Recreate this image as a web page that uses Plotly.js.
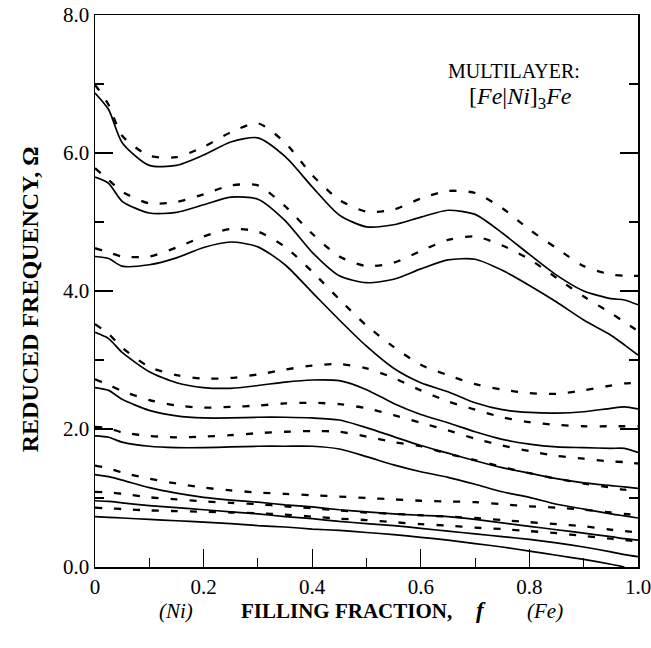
<!DOCTYPE html>
<html>
<head>
<meta charset="utf-8">
<script src="https://cdn.plot.ly/plotly-3.0.1.min.js"></script>
<style>html,body{margin:0;padding:0;background:#fff;}</style>
</head>
<body>
<div id="chart" style="width:651px;height:648px;"></div>
<script>
// Filling fraction f (Ni -> Fe)
var fillingFraction = [0, 0.025, 0.05, 0.1, 0.15, 0.2, 0.25, 0.3, 0.35, 0.4, 0.45, 0.5, 0.55, 0.6, 0.65, 0.7, 0.75, 0.8, 0.85, 0.9, 0.95, 0.975, 1.0];

// Solid curves (reduced frequency Omega)
var solid1 = [6.87, 6.63, 6.15, 5.82, 5.82, 5.97, 6.16, 6.22, 5.95, 5.51, 5.10, 4.93, 4.96, 5.07, 5.17, 5.11, 4.84, 4.53, 4.23, 4.00, 3.89, 3.87, 3.80];
var solid2 = [5.65, 5.56, 5.30, 5.13, 5.14, 5.25, 5.36, 5.33, 5.02, 4.56, 4.22, 4.12, 4.17, 4.32, 4.45, 4.46, 4.30, 4.08, 3.84, 3.58, 3.36, 3.22, 3.07];
var solid3 = [4.50, 4.47, 4.36, 4.38, 4.48, 4.63, 4.71, 4.64, 4.38, 3.98, 3.58, 3.20, 2.88, 2.67, 2.54, 2.38, 2.28, 2.24, 2.23, 2.25, 2.30, 2.32, 2.29];
var solid4 = [3.40, 3.31, 3.11, 2.83, 2.67, 2.60, 2.59, 2.63, 2.68, 2.71, 2.70, 2.57, 2.37, 2.21, 2.09, 1.96, 1.85, 1.78, 1.74, 1.73, 1.72, 1.72, 1.66];
var solid5 = [2.60, 2.56, 2.43, 2.27, 2.19, 2.16, 2.16, 2.17, 2.17, 2.16, 2.13, 2.02, 1.89, 1.76, 1.65, 1.54, 1.44, 1.36, 1.28, 1.22, 1.18, 1.16, 1.14];
var solid6 = [1.90, 1.88, 1.81, 1.75, 1.73, 1.73, 1.74, 1.75, 1.75, 1.75, 1.71, 1.60, 1.48, 1.38, 1.30, 1.20, 1.09, 1.01, 0.91, 0.84, 0.77, 0.74, 0.71];
var solid7 = [1.34, 1.31, 1.26, 1.15, 1.07, 1.01, 0.97, 0.94, 0.90, 0.87, 0.83, 0.80, 0.77, 0.75, 0.73, 0.69, 0.64, 0.59, 0.54, 0.49, 0.44, 0.41, 0.39];
var solid8 = [0.96, 0.95, 0.93, 0.89, 0.86, 0.83, 0.80, 0.77, 0.73, 0.70, 0.66, 0.63, 0.60, 0.56, 0.52, 0.48, 0.44, 0.40, 0.35, 0.29, 0.22, 0.18, 0.15];
var solid9 = [0.73, 0.72, 0.71, 0.69, 0.67, 0.65, 0.63, 0.60, 0.58, 0.55, 0.53, 0.50, 0.47, 0.43, 0.39, 0.34, 0.29, 0.23, 0.17, 0.11, 0.04, 0.0, null];

// Dashed curves
var dashed1 = [6.99, 6.70, 6.25, 5.96, 5.94, 6.09, 6.30, 6.43, 6.15, 5.68, 5.32, 5.15, 5.18, 5.34, 5.45, 5.42, 5.20, 4.89, 4.62, 4.36, 4.24, 4.22, 4.22];
var dashed2 = [5.78, 5.61, 5.44, 5.27, 5.29, 5.40, 5.53, 5.53, 5.23, 4.83, 4.50, 4.36, 4.41, 4.58, 4.74, 4.79, 4.66, 4.46, 4.19, 3.92, 3.68, 3.55, 3.42];
var dashed3 = [4.62, 4.56, 4.50, 4.50, 4.63, 4.79, 4.90, 4.86, 4.64, 4.28, 3.88, 3.50, 3.19, 2.93, 2.78, 2.65, 2.57, 2.52, 2.51, 2.56, 2.63, 2.66, 2.67];
var dashed4 = [3.52, 3.38, 3.18, 2.90, 2.78, 2.73, 2.74, 2.79, 2.86, 2.92, 2.94, 2.88, 2.74, 2.56, 2.40, 2.28, 2.17, 2.10, 2.06, 2.04, 2.04, 2.04, 2.04];
var dashed5 = [2.72, 2.64, 2.55, 2.42, 2.34, 2.31, 2.32, 2.34, 2.37, 2.38, 2.36, 2.30, 2.20, 2.09, 1.98, 1.86, 1.76, 1.68, 1.61, 1.57, 1.53, 1.52, 1.50];
var dashed6 = [2.03, 2.01, 1.95, 1.90, 1.88, 1.89, 1.91, 1.94, 1.96, 1.97, 1.96, 1.89, 1.81, 1.75, 1.64, 1.55, 1.45, 1.36, 1.28, 1.21, 1.15, 1.12, 1.10];
var dashed7 = [1.47, 1.43, 1.37, 1.28, 1.21, 1.15, 1.11, 1.08, 1.06, 1.04, 1.02, 1.00, 0.98, 0.96, 0.95, 0.94, 0.91, 0.88, 0.86, 0.83, 0.79, 0.77, 0.75];
var dashed8 = [1.09, 1.08, 1.06, 1.01, 0.98, 0.95, 0.93, 0.91, 0.88, 0.85, 0.82, 0.79, 0.77, 0.75, 0.73, 0.71, 0.68, 0.65, 0.62, 0.59, 0.54, 0.52, 0.50];
var dashed9 = [0.86, 0.85, 0.84, 0.82, 0.81, 0.80, 0.79, 0.78, 0.76, 0.73, 0.70, 0.68, 0.65, 0.62, 0.60, 0.57, 0.55, 0.52, 0.49, 0.45, 0.41, 0.39, 0.37];

// Tick labels
var xTickVals = [0, 0.2, 0.4, 0.6, 0.8, 1.0];
var xTickText = ['0', '0.2', '0.4', '0.6', '0.8', '1.0'];
var yTickVals = [0, 2, 4, 6, 8];
var yTickText = ['0.0', '2.0', '4.0', '6.0', '8.0'];

var solidSeries = [solid1, solid2, solid3, solid4, solid5, solid6, solid7, solid8, solid9];
var dashedSeries = [dashed1, dashed2, dashed3, dashed4, dashed5, dashed6, dashed7, dashed8, dashed9];

var traces = [];
dashedSeries.forEach(function (ys) {
  traces.push({
    x: fillingFraction, y: ys, type: 'scatter', mode: 'lines',
    line: {color: '#000', width: 2.3, dash: '7px,12px', shape: 'spline', smoothing: 0.7},
    hoverinfo: 'skip'
  });
});
solidSeries.forEach(function (ys) {
  traces.push({
    x: fillingFraction, y: ys, type: 'scatter', mode: 'lines',
    line: {color: '#000', width: 1.7, shape: 'spline', smoothing: 0.7},
    hoverinfo: 'skip', connectgaps: false
  });
});

var serif = "'Liberation Serif', 'Times New Roman', Times, serif";

function ann(x, y, text, size, extra) {
  var a = {xref: 'paper', yref: 'paper', x: x, y: y, text: text, showarrow: false,
           xanchor: 'center', yanchor: 'middle',
           font: {family: serif, size: size, color: '#000'}};
  if (extra) { for (var k in extra) { a[k] = extra[k]; } }
  return a;
}

var layout = {
  width: 651, height: 648,
  margin: {l: 95, r: 13, t: 15, b: 81},
  paper_bgcolor: '#fff', plot_bgcolor: '#fff',
  showlegend: false,
  font: {family: serif, color: '#000', size: 21},
  xaxis: {
    range: [0, 1], tickmode: 'array', tickvals: xTickVals, ticktext: xTickText,
    ticks: 'inside', ticklen: 18, tickwidth: 1.2, tickcolor: '#000',
    ticklabeloverflow: 'allow',
    minor: {tick0: 0, dtick: 0.1, ticks: 'inside', ticklen: 9, tickwidth: 1.2, tickcolor: '#000'},
    showline: true, linecolor: '#000', linewidth: 1.5, mirror: true,
    showgrid: false, zeroline: false, tickfont: {family: serif, size: 21, color: '#000'}
  },
  yaxis: {
    range: [0, 8], tickmode: 'array', tickvals: yTickVals, ticktext: yTickText,
    ticks: 'inside', ticklen: 18, tickwidth: 1.2, tickcolor: '#000',
    ticklabeloverflow: 'allow',
    minor: {tick0: 0, dtick: 1, ticks: 'inside', ticklen: 9, tickwidth: 1.2, tickcolor: '#000'},
    showline: true, linecolor: '#000', linewidth: 1.5, mirror: 'ticks',
    showgrid: false, zeroline: false, tickfont: {family: serif, size: 21, color: '#000'}
  },
  annotations: [
    ann(-0.1197, 0.485, '<b>REDUCED FREQUENCY, Ω</b>', 24, {textangle: -90}),
    ann(0.149, -0.0795, '<i>(Ni)</i>', 21),
    ann(0.464, -0.0795, '<b>FILLING FRACTION,</b>', 21),
    ann(0.711, -0.0795, '<b><i>f</i></b>', 23),
    ann(0.829, -0.0795, '<i>(Fe)</i>', 21),
    ann(0.7716, 0.8986, 'MULTILAYER:', 20),
    ann(0.7845, 0.8496, '[<i>Fe</i>|<i>Ni</i>]<sub>3</sub><i>Fe</i>', 24)
  ]
};

Plotly.newPlot('chart', traces, layout, {staticPlot: true, displayModeBar: false});
</script>
</body>
</html>
